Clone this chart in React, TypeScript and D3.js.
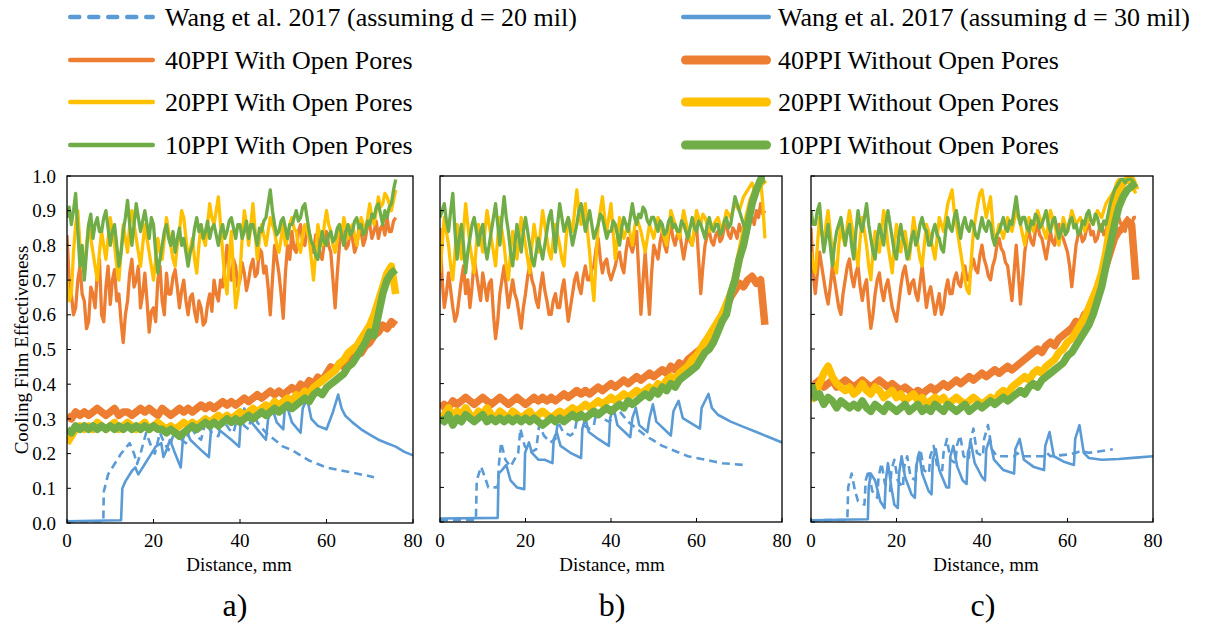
import React from 'react';
import * as d3 from 'd3';

const BLUE = '#5B9BD5';
const ORANGE = '#ED7D31';
const YELLOW = '#FFC000';
const GREEN = '#70AD47';
const FONT = '"Liberation Serif", "Times New Roman", Times, serif';

const STEP_OPEN = 0.5; // mm between samples, "With Open Pores" profiles
const STEP_CLOSED = 1; // mm between samples, "Without Open Pores" profiles
const X_TICKS = [0, 20, 40, 60, 80];
const Y_TICKS = [0, 0.1, 0.2, 0.3, 0.4, 0.5, 0.6, 0.7, 0.8, 0.9, 1.0];

// ---------- Panel a ----------
const A_40_OPEN = [
  0.83, 0.70, 0.66, 0.60, 0.62, 0.70, 0.74, 0.66, 0.64, 0.56,
  0.58, 0.68, 0.66, 0.62, 0.72, 0.76, 0.60, 0.58, 0.68, 0.74,
  0.63, 0.70, 0.73, 0.64, 0.66, 0.58, 0.52, 0.60, 0.64, 0.72,
  0.76, 0.68, 0.70, 0.74, 0.62, 0.66, 0.72, 0.64, 0.55, 0.61,
  0.62, 0.58, 0.70, 0.74, 0.64, 0.60, 0.72, 0.66, 0.66, 0.71,
  0.73, 0.68, 0.62, 0.67, 0.70, 0.64, 0.60, 0.65, 0.66, 0.61,
  0.58, 0.64, 0.62, 0.57, 0.58, 0.63, 0.66, 0.61, 0.70, 0.66,
  0.64, 0.70, 0.68, 0.74, 0.80, 0.73, 0.70, 0.76, 0.74, 0.68,
  0.70, 0.75, 0.72, 0.67, 0.70, 0.74, 0.76, 0.71, 0.72, 0.79,
  0.78, 0.72, 0.74, 0.68, 0.60, 0.70, 0.80, 0.76, 0.72, 0.66,
  0.59, 0.72, 0.80, 0.76, 0.84, 0.79, 0.78, 0.84, 0.86, 0.81,
  0.80, 0.85, 0.84, 0.79, 0.78, 0.83, 0.82, 0.77, 0.76, 0.81,
  0.84, 0.80, 0.78, 0.70, 0.62, 0.72, 0.80, 0.85, 0.84, 0.79,
  0.80, 0.84, 0.82, 0.78, 0.80, 0.85, 0.84, 0.80, 0.82, 0.86,
  0.86, 0.82, 0.84, 0.87, 0.82, 0.85, 0.86, 0.83, 0.88, 0.84,
  0.84, 0.87, 0.88,
];
const A_20_OPEN = [
  0.70, 0.64, 0.66, 0.78, 0.86, 0.90, 0.80, 0.74, 0.72, 0.80,
  0.86, 0.82, 0.78, 0.74, 0.70, 0.78, 0.84, 0.80, 0.76, 0.82,
  0.88, 0.84, 0.80, 0.74, 0.70, 0.78, 0.86, 0.82, 0.78, 0.86,
  0.90, 0.86, 0.82, 0.78, 0.74, 0.80, 0.86, 0.82, 0.78, 0.74,
  0.70, 0.76, 0.82, 0.78, 0.76, 0.82, 0.88, 0.84, 0.80, 0.76,
  0.74, 0.80, 0.84, 0.90, 0.88, 0.82, 0.76, 0.79, 0.82, 0.76,
  0.72, 0.80, 0.86, 0.82, 0.80, 0.86, 0.92, 0.88, 0.86, 0.90,
  0.94, 0.86, 0.78, 0.70, 0.66, 0.76, 0.84, 0.72, 0.62, 0.66,
  0.72, 0.82, 0.90, 0.86, 0.80, 0.86, 0.92, 0.84, 0.76, 0.82,
  0.86, 0.83, 0.80, 0.84, 0.88, 0.86, 0.84, 0.80, 0.78, 0.82,
  0.86, 0.80, 0.82, 0.86, 0.88, 0.85, 0.84, 0.80, 0.78, 0.83,
  0.86, 0.84, 0.82, 0.76, 0.70, 0.78, 0.86, 0.83, 0.80, 0.86,
  0.90, 0.86, 0.84, 0.80, 0.78, 0.82, 0.86, 0.83, 0.88, 0.85,
  0.82, 0.85, 0.86, 0.83, 0.80, 0.84, 0.88, 0.86, 0.84, 0.88,
  0.92, 0.88, 0.86, 0.90, 0.94, 0.91, 0.92, 0.95, 0.94, 0.92,
  0.90, 0.93, 0.96,
];
const A_10_OPEN = [
  0.88, 0.91, 0.86, 0.90, 0.95, 0.84, 0.74, 0.80, 0.70, 0.78,
  0.86, 0.89, 0.82, 0.86, 0.88, 0.84, 0.84, 0.88, 0.90, 0.85,
  0.80, 0.84, 0.86, 0.80, 0.74, 0.78, 0.84, 0.88, 0.93, 0.86,
  0.80, 0.86, 0.92, 0.88, 0.84, 0.87, 0.90, 0.86, 0.82, 0.88,
  0.86, 0.78, 0.72, 0.76, 0.80, 0.84, 0.86, 0.82, 0.80, 0.84,
  0.78, 0.82, 0.85, 0.80, 0.82, 0.78, 0.74, 0.78, 0.80, 0.85,
  0.88, 0.84, 0.86, 0.82, 0.84, 0.87, 0.82, 0.85, 0.86, 0.83,
  0.80, 0.84, 0.86, 0.82, 0.84, 0.87, 0.88, 0.85, 0.82, 0.86,
  0.86, 0.82, 0.84, 0.87, 0.82, 0.86, 0.86, 0.83, 0.80, 0.85,
  0.84, 0.87, 0.88, 0.92, 0.96, 0.90, 0.86, 0.83, 0.84, 0.87,
  0.88, 0.85, 0.82, 0.86, 0.86, 0.88, 0.90, 0.87, 0.88, 0.91,
  0.92, 0.88, 0.84, 0.81, 0.80, 0.77, 0.76, 0.80, 0.84, 0.81,
  0.80, 0.83, 0.84, 0.81, 0.82, 0.85, 0.86, 0.83, 0.80, 0.84,
  0.86, 0.83, 0.84, 0.87, 0.88, 0.85, 0.86, 0.83, 0.84, 0.87,
  0.86, 0.89, 0.88, 0.91, 0.92, 0.89, 0.86, 0.90, 0.88, 0.91,
  0.92, 0.96, 0.99,
];
const A_40_CLOSED = [
  0.31, 0.30, 0.32, 0.31, 0.32, 0.31, 0.32, 0.33, 0.32, 0.31,
  0.32, 0.33, 0.31, 0.32, 0.32, 0.31, 0.32, 0.33, 0.32, 0.33,
  0.32, 0.31, 0.33, 0.32, 0.31, 0.32, 0.33, 0.32, 0.33, 0.32,
  0.33, 0.34, 0.33, 0.34, 0.33, 0.34, 0.35, 0.34, 0.35, 0.34,
  0.35, 0.36, 0.35, 0.36, 0.37, 0.36, 0.37, 0.38, 0.37, 0.38,
  0.37, 0.38, 0.39, 0.38, 0.40, 0.39, 0.41, 0.40, 0.42, 0.41,
  0.43, 0.45, 0.44, 0.46, 0.45, 0.47, 0.48, 0.50, 0.49, 0.51,
  0.52, 0.54, 0.55, 0.57, 0.56, 0.58, 0.57,
];
const A_20_CLOSED = [
  0.23, 0.25, 0.27, 0.28, 0.27, 0.28, 0.27, 0.29, 0.28, 0.27,
  0.28, 0.29, 0.27, 0.28, 0.29, 0.28, 0.27, 0.28, 0.29, 0.27,
  0.28, 0.29, 0.28, 0.27, 0.28, 0.27, 0.28, 0.29, 0.28, 0.29,
  0.28, 0.29, 0.30, 0.29, 0.30, 0.31, 0.30, 0.31, 0.30, 0.31,
  0.32, 0.31, 0.32, 0.33, 0.32, 0.33, 0.34, 0.33, 0.35, 0.34,
  0.35, 0.36, 0.35, 0.37, 0.36, 0.38, 0.37, 0.39, 0.40, 0.41,
  0.42, 0.43, 0.44, 0.46, 0.47, 0.49, 0.50, 0.51, 0.53, 0.55,
  0.57, 0.60, 0.64, 0.68, 0.72, 0.74, 0.66,
];
const A_10_CLOSED = [
  0.27, 0.26, 0.28, 0.27, 0.28, 0.27, 0.28, 0.27, 0.28, 0.27,
  0.28, 0.27, 0.28, 0.27, 0.28, 0.27, 0.28, 0.27, 0.28, 0.27,
  0.28, 0.27, 0.27, 0.26, 0.27, 0.26, 0.25, 0.26, 0.27, 0.28,
  0.27, 0.28, 0.29, 0.28, 0.29, 0.28, 0.29, 0.30, 0.29, 0.30,
  0.29, 0.30, 0.31, 0.30, 0.31, 0.32, 0.31, 0.32, 0.33, 0.32,
  0.33, 0.34, 0.33, 0.34, 0.35, 0.36, 0.35, 0.37, 0.38, 0.37,
  0.39, 0.40, 0.41, 0.42, 0.43, 0.45, 0.46, 0.48, 0.50, 0.52,
  0.55, 0.54, 0.60, 0.66, 0.70, 0.72, 0.73,
];
const A_WANG20 = [
  [0, 0.005], [8.4, 0.005], [8.5, 0.09], [9.5, 0.14], [11, 0.17], [12.5, 0.2], [14.5, 0.23],
  [15.5, 0.2], [16.2, 0.17], [17, 0.2], [18.3, 0.26], [19.5, 0.22], [20.3, 0.2], [21.5, 0.26],
  [22.5, 0.23], [23.5, 0.21], [25, 0.27], [26.5, 0.24], [27.5, 0.23], [28.5, 0.28], [30, 0.25],
  [31, 0.24], [32, 0.29], [33.5, 0.26], [35, 0.25], [36, 0.3], [37.5, 0.27], [38.5, 0.26],
  [39.5, 0.31], [41, 0.28], [42, 0.27], [43, 0.33], [44, 0.29], [46, 0.26], [48, 0.24],
  [50, 0.22], [52, 0.21], [54, 0.195], [56, 0.18], [58, 0.17], [60, 0.16], [62, 0.155],
  [64, 0.15], [66, 0.145], [68, 0.14], [70, 0.135], [71, 0.132],
];
const A_WANG30 = [
  [0, 0.005], [12.5, 0.008], [12.8, 0.1], [13.5, 0.12], [15, 0.15], [15.8, 0.16], [16.5, 0.14],
  [18, 0.17], [19.5, 0.2], [20.5, 0.22], [21.8, 0.23], [22.3, 0.19], [23, 0.21], [23.8, 0.24],
  [25, 0.2], [26.3, 0.16], [26.8, 0.24], [27.5, 0.27], [28.5, 0.24], [31, 0.21], [32.8, 0.19],
  [33.3, 0.27], [34, 0.3], [35, 0.27], [38, 0.24], [39.8, 0.22], [40.2, 0.3], [41, 0.33],
  [42, 0.3], [44, 0.27], [46, 0.24], [46.5, 0.3], [47.5, 0.33], [48.5, 0.29], [50, 0.27],
  [50.3, 0.32], [50.8, 0.34], [52, 0.29], [54, 0.26], [54.5, 0.33], [55.5, 0.36], [56.5, 0.3],
  [58, 0.28], [60, 0.27], [61.5, 0.32], [62.7, 0.37], [63.5, 0.33], [64.3, 0.31], [66, 0.29],
  [68, 0.27], [70, 0.255], [72, 0.24], [74, 0.23], [76, 0.22], [78, 0.205], [80, 0.195],
];

// ---------- Panel b ----------
const B_40_OPEN = [
  0.85, 0.70, 0.62, 0.66, 0.72, 0.67, 0.62, 0.58, 0.60, 0.65,
  0.70, 0.74, 0.66, 0.70, 0.62, 0.68, 0.76, 0.72, 0.68, 0.64,
  0.72, 0.68, 0.64, 0.69, 0.70, 0.60, 0.53, 0.58, 0.66, 0.70,
  0.74, 0.68, 0.62, 0.66, 0.70, 0.66, 0.64, 0.60, 0.56, 0.62,
  0.66, 0.71, 0.74, 0.70, 0.68, 0.64, 0.62, 0.68, 0.72, 0.67,
  0.64, 0.60, 0.60, 0.64, 0.66, 0.62, 0.62, 0.67, 0.70, 0.64,
  0.58, 0.62, 0.66, 0.70, 0.72, 0.68, 0.66, 0.71, 0.74, 0.70,
  0.70, 0.73, 0.74, 0.79, 0.82, 0.76, 0.72, 0.75, 0.76, 0.72,
  0.70, 0.72, 0.74, 0.77, 0.78, 0.74, 0.72, 0.78, 0.82, 0.80,
  0.78, 0.81, 0.84, 0.72, 0.60, 0.70, 0.78, 0.68, 0.60, 0.72,
  0.80, 0.78, 0.76, 0.81, 0.84, 0.80, 0.78, 0.83, 0.86, 0.82,
  0.80, 0.83, 0.84, 0.80, 0.76, 0.80, 0.84, 0.81, 0.80, 0.84,
  0.86, 0.76, 0.66, 0.74, 0.80, 0.83, 0.84, 0.81, 0.80, 0.83,
  0.84, 0.81, 0.82, 0.85, 0.86, 0.83, 0.82, 0.85, 0.84, 0.82,
  0.86, 0.84, 0.84, 0.87, 0.86, 0.88, 0.88, 0.86, 0.90, 0.88,
  0.92, 0.89, 0.90,
];
const B_20_OPEN = [
  0.72, 0.80, 0.88, 0.84, 0.80, 0.74, 0.70, 0.78, 0.86, 0.82,
  0.76, 0.84, 0.92, 0.86, 0.80, 0.76, 0.72, 0.80, 0.86, 0.82,
  0.78, 0.84, 0.90, 0.86, 0.82, 0.78, 0.74, 0.82, 0.88, 0.84,
  0.80, 0.74, 0.70, 0.78, 0.84, 0.80, 0.76, 0.82, 0.88, 0.84,
  0.80, 0.76, 0.72, 0.80, 0.86, 0.82, 0.78, 0.84, 0.90, 0.86,
  0.82, 0.78, 0.76, 0.82, 0.86, 0.83, 0.80, 0.76, 0.74, 0.82,
  0.88, 0.86, 0.84, 0.90, 0.96, 0.90, 0.86, 0.89, 0.92, 0.84,
  0.78, 0.70, 0.64, 0.76, 0.86, 0.90, 0.94, 0.88, 0.84, 0.88,
  0.92, 0.84, 0.76, 0.82, 0.88, 0.85, 0.82, 0.84, 0.86, 0.83,
  0.80, 0.85, 0.88, 0.86, 0.84, 0.81, 0.78, 0.82, 0.86, 0.84,
  0.82, 0.85, 0.88, 0.86, 0.84, 0.82, 0.80, 0.85, 0.90, 0.88,
  0.86, 0.84, 0.82, 0.86, 0.90, 0.87, 0.84, 0.82, 0.80, 0.85,
  0.90, 0.88, 0.86, 0.89, 0.88, 0.86, 0.84, 0.85, 0.86, 0.87,
  0.88, 0.86, 0.84, 0.87, 0.90, 0.89, 0.88, 0.90, 0.92, 0.91,
  0.90, 0.92, 0.94, 0.95, 0.96, 0.97, 0.98, 0.96, 0.97, 0.98,
  0.99, 0.92, 0.82,
];
const B_10_OPEN = [
  0.88, 0.90, 0.92, 0.87, 0.84, 0.90, 0.95, 0.84, 0.76, 0.82,
  0.86, 0.80, 0.72, 0.78, 0.82, 0.86, 0.88, 0.84, 0.80, 0.84,
  0.86, 0.80, 0.76, 0.80, 0.84, 0.88, 0.92, 0.86, 0.80, 0.88,
  0.94, 0.88, 0.84, 0.78, 0.74, 0.80, 0.86, 0.82, 0.78, 0.84,
  0.88, 0.84, 0.80, 0.76, 0.74, 0.78, 0.82, 0.79, 0.76, 0.80,
  0.84, 0.88, 0.90, 0.84, 0.78, 0.86, 0.92, 0.88, 0.84, 0.86,
  0.88, 0.84, 0.80, 0.83, 0.86, 0.90, 0.92, 0.88, 0.84, 0.87,
  0.90, 0.86, 0.82, 0.84, 0.86, 0.89, 0.88, 0.85, 0.82, 0.84,
  0.84, 0.87, 0.86, 0.83, 0.80, 0.85, 0.88, 0.86, 0.84, 0.88,
  0.92, 0.88, 0.86, 0.89, 0.88, 0.91, 0.90, 0.87, 0.86, 0.88,
  0.88, 0.86, 0.84, 0.87, 0.86, 0.83, 0.84, 0.87, 0.88, 0.85,
  0.86, 0.84, 0.84, 0.87, 0.86, 0.84, 0.82, 0.85, 0.88, 0.85,
  0.84, 0.87, 0.86, 0.84, 0.82, 0.86, 0.88, 0.85, 0.84, 0.86,
  0.86, 0.83, 0.84, 0.87, 0.88, 0.85, 0.86, 0.90, 0.94, 0.92,
  0.90, 0.88, 0.86, 0.84, 0.84, 0.87, 0.90, 0.93, 0.96, 0.97,
  0.98, 0.99, 0.99,
];
const B_40_CLOSED = [
  0.33, 0.34, 0.33, 0.35, 0.34, 0.35, 0.36, 0.35, 0.34, 0.35,
  0.36, 0.35, 0.34, 0.35, 0.36, 0.35, 0.34, 0.35, 0.36, 0.35,
  0.34, 0.35, 0.36, 0.35, 0.36, 0.35, 0.36, 0.35, 0.36, 0.37,
  0.36, 0.37, 0.38, 0.37, 0.38, 0.37, 0.38, 0.39, 0.38, 0.39,
  0.40, 0.39, 0.40, 0.41, 0.40, 0.41, 0.42, 0.41, 0.42, 0.43,
  0.42, 0.43, 0.44, 0.43, 0.45, 0.44, 0.46, 0.45, 0.47, 0.48,
  0.49, 0.50, 0.52, 0.53, 0.55, 0.57, 0.60, 0.62, 0.65, 0.67,
  0.69, 0.68, 0.70, 0.71, 0.69, 0.70, 0.57,
];
const B_20_CLOSED = [
  0.29, 0.31, 0.33, 0.30, 0.32, 0.31, 0.33, 0.31, 0.30, 0.32,
  0.31, 0.33, 0.31, 0.30, 0.32, 0.31, 0.30, 0.32, 0.31, 0.30,
  0.31, 0.32, 0.30, 0.31, 0.32, 0.31, 0.30, 0.31, 0.32, 0.31,
  0.32, 0.33, 0.32, 0.33, 0.34, 0.33, 0.34, 0.35, 0.34, 0.35,
  0.36, 0.35, 0.36, 0.37, 0.36, 0.37, 0.38, 0.37, 0.38, 0.39,
  0.38, 0.40, 0.39, 0.41, 0.42, 0.41, 0.43, 0.44, 0.45, 0.47,
  0.48, 0.50, 0.52, 0.54, 0.56, 0.58, 0.60, 0.63, 0.66, 0.70,
  0.76, 0.82, 0.88, 0.93, 0.96, 0.98, 0.99,
];
const B_10_CLOSED = [
  0.30, 0.29, 0.31, 0.28, 0.30, 0.29, 0.31, 0.30, 0.29, 0.30,
  0.31, 0.29, 0.30, 0.29, 0.30, 0.29, 0.30, 0.29, 0.30, 0.29,
  0.30, 0.29, 0.30, 0.29, 0.28, 0.29, 0.30, 0.29, 0.30, 0.29,
  0.30, 0.31, 0.30, 0.31, 0.30, 0.31, 0.32, 0.31, 0.32, 0.33,
  0.32, 0.33, 0.34, 0.33, 0.35, 0.34, 0.35, 0.36, 0.37, 0.36,
  0.38, 0.37, 0.39, 0.38, 0.40, 0.39, 0.41, 0.42, 0.43, 0.44,
  0.45, 0.47, 0.49, 0.50, 0.52, 0.55, 0.58, 0.60, 0.66, 0.70,
  0.76, 0.80, 0.86, 0.92, 0.96, 0.99, 0.99,
];
const B_WANG20 = [
  [0, 0.005], [8.4, 0.006], [8.6, 0.12], [9.6, 0.16], [10.5, 0.13], [11.3, 0.1], [13.5, 0.1],
  [13.8, 0.17], [14.3, 0.23], [15.3, 0.18], [16.5, 0.16], [18.3, 0.2], [18.8, 0.27], [19.8, 0.22],
  [21, 0.2], [22.5, 0.21], [23.2, 0.28], [24.3, 0.25], [25.8, 0.23], [27, 0.24], [27.6, 0.29],
  [28.8, 0.26], [30.5, 0.25], [31.5, 0.26], [32.2, 0.31], [33.5, 0.28], [35, 0.27], [36, 0.28],
  [36.6, 0.32], [37.8, 0.3], [39.5, 0.29], [40.3, 0.3], [41, 0.35], [42, 0.32], [44, 0.29],
  [46, 0.27], [48, 0.25], [50, 0.235], [52, 0.22], [54, 0.21], [56, 0.2], [58, 0.19],
  [60, 0.185], [62, 0.18], [64, 0.175], [66, 0.17], [68, 0.168], [70.8, 0.165],
];
const B_WANG30 = [
  [0, 0.01], [13.5, 0.012], [13.7, 0.14], [14.5, 0.15], [15.5, 0.165], [16.5, 0.12], [18, 0.1],
  [19.7, 0.095], [19.9, 0.2], [20.8, 0.23], [21.5, 0.2], [23, 0.18], [24.5, 0.18], [26.3, 0.17],
  [26.6, 0.24], [27.3, 0.26], [28.2, 0.22], [30.5, 0.2], [33, 0.185], [33.3, 0.27], [34, 0.3],
  [34.8, 0.26], [37, 0.24], [39.5, 0.22], [39.8, 0.3], [40.6, 0.33], [41.5, 0.28], [44.5, 0.245],
  [45, 0.3], [45.8, 0.33], [46.6, 0.28], [48.5, 0.26], [49, 0.3], [49.8, 0.34], [50.6, 0.29],
  [54, 0.25], [54.6, 0.32], [55.8, 0.35], [56.8, 0.3], [60.8, 0.27], [61.2, 0.33], [62.8, 0.37],
  [63.6, 0.33], [65, 0.31], [68, 0.29], [71, 0.275], [74, 0.26], [77, 0.245], [80, 0.23],
];

// ---------- Panel c ----------
const C_40_OPEN = [
  0.85, 0.72, 0.66, 0.72, 0.78, 0.74, 0.70, 0.66, 0.63, 0.68,
  0.74, 0.70, 0.66, 0.62, 0.60, 0.66, 0.70, 0.74, 0.76, 0.71,
  0.68, 0.72, 0.74, 0.68, 0.64, 0.68, 0.70, 0.62, 0.56, 0.60,
  0.66, 0.70, 0.72, 0.67, 0.64, 0.68, 0.70, 0.66, 0.62, 0.60,
  0.58, 0.63, 0.68, 0.72, 0.74, 0.70, 0.66, 0.69, 0.70, 0.66,
  0.64, 0.69, 0.74, 0.68, 0.62, 0.66, 0.68, 0.64, 0.60, 0.63,
  0.66, 0.60, 0.62, 0.67, 0.70, 0.66, 0.66, 0.70, 0.72, 0.69,
  0.68, 0.72, 0.74, 0.70, 0.70, 0.74, 0.76, 0.73, 0.72, 0.77,
  0.80, 0.76, 0.74, 0.71, 0.70, 0.74, 0.76, 0.80, 0.82, 0.79,
  0.78, 0.75, 0.74, 0.69, 0.64, 0.72, 0.80, 0.72, 0.63, 0.70,
  0.78, 0.82, 0.84, 0.81, 0.80, 0.84, 0.86, 0.83, 0.82, 0.79,
  0.76, 0.80, 0.84, 0.81, 0.80, 0.84, 0.86, 0.83, 0.82, 0.80,
  0.78, 0.74, 0.68, 0.74, 0.80, 0.83, 0.84, 0.81, 0.82, 0.85,
  0.86, 0.83, 0.84, 0.81, 0.82, 0.85, 0.86, 0.83, 0.84, 0.87,
  0.88, 0.85, 0.86, 0.89, 0.88, 0.86, 0.86, 0.84, 0.88, 0.85,
  0.86, 0.88, 0.88,
];
const C_20_OPEN = [
  0.78, 0.74, 0.72, 0.80, 0.88, 0.84, 0.80, 0.86, 0.90, 0.84,
  0.78, 0.74, 0.72, 0.80, 0.86, 0.82, 0.80, 0.86, 0.90, 0.86,
  0.82, 0.78, 0.74, 0.82, 0.88, 0.84, 0.80, 0.74, 0.70, 0.78,
  0.84, 0.80, 0.78, 0.84, 0.90, 0.86, 0.80, 0.76, 0.72, 0.80,
  0.86, 0.82, 0.78, 0.82, 0.84, 0.80, 0.76, 0.82, 0.88, 0.84,
  0.80, 0.76, 0.74, 0.80, 0.86, 0.84, 0.82, 0.79, 0.76, 0.82,
  0.88, 0.86, 0.84, 0.88, 0.92, 0.94, 0.96, 0.90, 0.86, 0.82,
  0.78, 0.74, 0.70, 0.67, 0.66, 0.76, 0.84, 0.88, 0.92, 0.95,
  0.96, 0.92, 0.88, 0.91, 0.94, 0.86, 0.80, 0.83, 0.86, 0.84,
  0.82, 0.85, 0.88, 0.86, 0.84, 0.87, 0.90, 0.88, 0.86, 0.83,
  0.80, 0.84, 0.88, 0.86, 0.84, 0.87, 0.90, 0.88, 0.86, 0.84,
  0.82, 0.86, 0.90, 0.88, 0.86, 0.83, 0.80, 0.84, 0.88, 0.86,
  0.84, 0.87, 0.90, 0.88, 0.86, 0.87, 0.88, 0.86, 0.84, 0.86,
  0.88, 0.87, 0.86, 0.88, 0.90, 0.89, 0.88, 0.90, 0.92, 0.93,
  0.94, 0.95, 0.96, 0.98, 0.99, 0.98, 0.98, 0.99, 0.99, 0.98,
  0.97, 0.96, 0.95,
];
const C_10_OPEN = [
  0.90, 0.86, 0.86, 0.90, 0.92, 0.84, 0.78, 0.82, 0.86, 0.80,
  0.74, 0.80, 0.84, 0.86, 0.88, 0.84, 0.80, 0.84, 0.86, 0.80,
  0.76, 0.84, 0.90, 0.86, 0.84, 0.88, 0.92, 0.86, 0.82, 0.78,
  0.76, 0.82, 0.86, 0.83, 0.80, 0.86, 0.90, 0.86, 0.82, 0.78,
  0.76, 0.82, 0.86, 0.82, 0.80, 0.76, 0.78, 0.82, 0.84, 0.80,
  0.82, 0.86, 0.88, 0.85, 0.84, 0.80, 0.80, 0.84, 0.86, 0.83,
  0.82, 0.79, 0.78, 0.84, 0.88, 0.85, 0.84, 0.88, 0.90, 0.86,
  0.82, 0.86, 0.88, 0.85, 0.84, 0.87, 0.86, 0.83, 0.82, 0.85,
  0.88, 0.85, 0.84, 0.87, 0.86, 0.82, 0.80, 0.83, 0.84, 0.86,
  0.88, 0.85, 0.84, 0.87, 0.86, 0.90, 0.94, 0.89, 0.86, 0.88,
  0.88, 0.85, 0.84, 0.87, 0.86, 0.89, 0.88, 0.85, 0.86, 0.88,
  0.90, 0.86, 0.84, 0.87, 0.88, 0.85, 0.82, 0.84, 0.86, 0.83,
  0.84, 0.87, 0.88, 0.85, 0.86, 0.83, 0.84, 0.87, 0.86, 0.89,
  0.90, 0.87, 0.86, 0.89, 0.88, 0.85, 0.84, 0.87, 0.86, 0.89,
  0.92, 0.94, 0.96, 0.97, 0.98, 0.99, 0.99, 0.98, 0.99, 0.99,
  0.99, 0.98, 0.98,
];
const C_40_CLOSED = [
  0.38, 0.40, 0.41, 0.39, 0.40, 0.41, 0.39, 0.40, 0.41, 0.40,
  0.39, 0.40, 0.41, 0.40, 0.39, 0.40, 0.41, 0.40, 0.39, 0.40,
  0.39, 0.38, 0.39, 0.38, 0.37, 0.38, 0.37, 0.38, 0.39, 0.38,
  0.39, 0.40, 0.39, 0.40, 0.41, 0.40, 0.41, 0.42, 0.41, 0.42,
  0.43, 0.42, 0.43, 0.44, 0.43, 0.44, 0.45, 0.44, 0.45, 0.46,
  0.47, 0.48, 0.49, 0.50, 0.49, 0.51, 0.52, 0.51, 0.53, 0.54,
  0.55, 0.56, 0.58, 0.57, 0.60, 0.59, 0.63, 0.67, 0.70, 0.74,
  0.78, 0.82, 0.84, 0.85, 0.87, 0.86, 0.70,
];
const C_20_CLOSED = [
  0.35, 0.37, 0.40, 0.43, 0.45, 0.42, 0.40, 0.39, 0.38, 0.39,
  0.37, 0.38, 0.40, 0.38, 0.37, 0.39, 0.38, 0.36, 0.37, 0.38,
  0.36, 0.37, 0.35, 0.36, 0.37, 0.35, 0.36, 0.34, 0.35, 0.36,
  0.35, 0.36, 0.34, 0.35, 0.36, 0.35, 0.34, 0.35, 0.36, 0.35,
  0.34, 0.35, 0.36, 0.35, 0.37, 0.38, 0.37, 0.39, 0.40, 0.41,
  0.42, 0.41, 0.43, 0.44, 0.43, 0.45, 0.46, 0.47, 0.49, 0.50,
  0.52, 0.53, 0.55, 0.57, 0.59, 0.62, 0.65, 0.68, 0.72, 0.78,
  0.86, 0.92, 0.96, 0.98, 0.99, 0.99, 0.96,
];
const C_10_CLOSED = [
  0.40, 0.36, 0.37, 0.34, 0.36, 0.35, 0.33, 0.35, 0.34, 0.33,
  0.34, 0.33, 0.35, 0.33, 0.32, 0.34, 0.33, 0.32, 0.34, 0.33,
  0.32, 0.33, 0.34, 0.32, 0.33, 0.34, 0.32, 0.33, 0.32, 0.34,
  0.33, 0.32, 0.34, 0.33, 0.32, 0.33, 0.34, 0.32, 0.33, 0.34,
  0.33, 0.34, 0.35, 0.34, 0.35, 0.36, 0.35, 0.36, 0.37, 0.38,
  0.37, 0.39, 0.40, 0.39, 0.41, 0.42, 0.43, 0.44, 0.45, 0.46,
  0.48, 0.49, 0.51, 0.53, 0.55, 0.57, 0.60, 0.64, 0.68, 0.74,
  0.80, 0.86, 0.91, 0.94, 0.96, 0.97, 0.98,
];
const C_WANG20 = [
  [0, 0.005], [8.5, 0.006], [8.7, 0.1], [9.5, 0.14], [10.3, 0.09], [11, 0.06], [12.5, 0.05],
  [12.8, 0.12], [13.5, 0.15], [14.3, 0.09], [15.5, 0.07], [15.8, 0.13], [16.5, 0.17], [17.3, 0.11],
  [18.5, 0.09], [18.8, 0.15], [19.5, 0.18], [20.3, 0.12], [21.5, 0.1], [21.8, 0.16], [22.5, 0.19],
  [23.3, 0.13], [24.5, 0.12], [24.8, 0.18], [25.6, 0.21], [26.4, 0.15], [27.6, 0.14], [27.9, 0.19],
  [28.7, 0.22], [29.5, 0.16], [30.7, 0.15], [31, 0.2], [31.8, 0.24], [32.6, 0.18], [33.8, 0.17],
  [34.1, 0.22], [34.9, 0.25], [35.7, 0.19], [36.9, 0.18], [37.2, 0.23], [38, 0.27], [38.8, 0.2],
  [40.2, 0.19], [40.5, 0.24], [41.4, 0.28], [42.3, 0.21], [43.5, 0.19], [46, 0.19], [47.5, 0.19],
  [48.2, 0.2], [49, 0.19], [52, 0.19], [54.5, 0.19], [55.2, 0.2], [56, 0.19], [60, 0.195],
  [62, 0.2], [63, 0.205], [65, 0.2], [68, 0.205], [70.6, 0.21],
];
const C_WANG30 = [
  [0, 0.005], [13.3, 0.008], [13.5, 0.1], [14, 0.14], [15, 0.12], [16.2, 0.06], [17.2, 0.04],
  [17.5, 0.12], [18, 0.17], [18.8, 0.1], [19.5, 0.05], [20.3, 0.04], [20.6, 0.14], [21.2, 0.19],
  [22, 0.13], [23.5, 0.08], [24.3, 0.07], [24.6, 0.16], [25.3, 0.2], [26, 0.14], [27.5, 0.09],
  [28.2, 0.08], [28.5, 0.18], [29.2, 0.21], [30, 0.15], [31.7, 0.1], [32.3, 0.1], [32.6, 0.19],
  [33.3, 0.22], [34.2, 0.16], [35.5, 0.12], [36.4, 0.11], [36.7, 0.2], [37.4, 0.23], [38.3, 0.17],
  [40, 0.13], [40.7, 0.12], [41, 0.21], [41.8, 0.24], [42.8, 0.18], [45, 0.15], [47.5, 0.14],
  [47.8, 0.21], [48.8, 0.24], [49.8, 0.18], [52, 0.16], [54.5, 0.15], [54.8, 0.22], [55.8, 0.26],
  [56.8, 0.19], [59, 0.175], [61.5, 0.165], [61.8, 0.24], [62.8, 0.28], [63.8, 0.2], [65, 0.185],
  [68, 0.18], [72, 0.182], [76, 0.186], [80, 0.19],
];

// ---------- series definitions (drawing order = Excel series order) ----------
const SERIES = [
  { key: 'wang20', name: 'Wang et al. 2017 (assuming d = 20 mil)', color: BLUE, width: 2.6, legendWidth: 4.5, dash: '8,5', legendDash: '9,10', pairs: true },
  { key: 'wang30', name: 'Wang et al. 2017 (assuming d = 30 mil)', color: BLUE, width: 2.6, legendWidth: 4.5, pairs: true },
  { key: 'open40', name: '40PPI With Open Pores', color: ORANGE, width: 3.3, legendWidth: 4.5, step: STEP_OPEN },
  { key: 'closed40', name: '40PPI Without Open Pores', color: ORANGE, width: 7.5, legendWidth: 9, step: STEP_CLOSED },
  { key: 'open20', name: '20PPI With Open Pores', color: YELLOW, width: 3.3, legendWidth: 4.5, step: STEP_OPEN },
  { key: 'closed20', name: '20PPI Without Open Pores', color: YELLOW, width: 7.5, legendWidth: 9, step: STEP_CLOSED },
  { key: 'open10', name: '10PPI With Open Pores', color: GREEN, width: 3.3, legendWidth: 4.5, step: STEP_OPEN },
  { key: 'closed10', name: '10PPI Without Open Pores', color: GREEN, width: 7.5, legendWidth: 9, step: STEP_CLOSED },
];

const PANELS = [
  {
    id: 'a', label: 'a)', left: 67, right: 413, top: 176, bottom: 523, labelX: 235, titleX: 239, yLabels: true,
    data: { wang20: A_WANG20, wang30: A_WANG30, open40: A_40_OPEN, closed40: A_40_CLOSED, open20: A_20_OPEN, closed20: A_20_CLOSED, open10: A_10_OPEN, closed10: A_10_CLOSED },
  },
  {
    id: 'b', label: 'b)', left: 440, right: 782, top: 176, bottom: 522, labelX: 612, titleX: 612, yLabels: false,
    data: { wang20: B_WANG20, wang30: B_WANG30, open40: B_40_OPEN, closed40: B_40_CLOSED, open20: B_20_OPEN, closed20: B_20_CLOSED, open10: B_10_OPEN, closed10: B_10_CLOSED },
  },
  {
    id: 'c', label: 'c)', left: 811, right: 1153, top: 176, bottom: 522, labelX: 983, titleX: 986, yLabels: false,
    data: { wang20: C_WANG20, wang30: C_WANG30, open40: C_40_OPEN, closed40: C_40_CLOSED, open20: C_20_OPEN, closed20: C_20_CLOSED, open10: C_10_OPEN, closed10: C_10_CLOSED },
  },
];

const LEGEND = { leftLine: [68, 155], leftText: 165, rightLine: [681, 771], rightText: 778, rows: [17, 60, 102, 145], fontSize: 26 };

function Panel({ p }: { p: any }) {
  const x = d3.scaleLinear().domain([0, 80]).range([p.left, p.right]);
  const y = d3.scaleLinear().domain([0, 1]).range([p.bottom, p.top]);
  const line = d3.line<number[]>().x((d) => x(d[0])).y((d) => y(d[1]));
  const clipId = `clip-${p.id}`;
  return (
    <g>
      <defs>
        <clipPath id={clipId}>
          <rect x={p.left} y={p.top} width={p.right - p.left} height={p.bottom - p.top} />
        </clipPath>
      </defs>
      <g clipPath={`url(#${clipId})`}>
        {SERIES.map((s) => {
          const raw = p.data[s.key];
          const pts: number[][] = s.pairs ? raw : raw.map((v: number, i: number) => [i * (s.step as number), v]);
          return (
            <path key={s.key} d={line(pts) || ''} fill="none" stroke={s.color} strokeWidth={s.width}
              strokeDasharray={s.dash} strokeLinejoin="round" strokeLinecap="butt" />
          );
        })}
      </g>
      <rect x={p.left} y={p.top} width={p.right - p.left} height={p.bottom - p.top} fill="none" stroke="#000" strokeWidth={1.3} />
      {Y_TICKS.map((t) => (
        <g key={`yt${t}`}>
          <line x1={p.left} x2={p.left + 4} y1={y(t)} y2={y(t)} stroke="#000" strokeWidth={1} />
          {p.yLabels && (
            <text x={p.left - 11} y={y(t)} dy="0.35em" textAnchor="end" fontSize={19} fontFamily={FONT} fill="#000">
              {d3.format('.1f')(t)}
            </text>
          )}
        </g>
      ))}
      {X_TICKS.map((t) => (
        <g key={`xt${t}`}>
          <line x1={x(t)} x2={x(t)} y1={p.bottom} y2={p.bottom - 4} stroke="#000" strokeWidth={1} />
          <text x={x(t)} y={547} textAnchor="middle" fontSize={19} fontFamily={FONT} fill="#000">{t}</text>
        </g>
      ))}
      <text x={p.titleX} y={571} textAnchor="middle" fontSize={19} fontFamily={FONT} fill="#000">Distance, mm</text>
      <text x={p.labelX} y={616} textAnchor="middle" fontSize={32} fontFamily={FONT} fill="#000">{p.label}</text>
    </g>
  );
}

export default function App() {
  return (
    <svg width={1217} height={628} style={{ position: 'absolute', left: 0, top: 0, background: '#fff' }}>
      <rect x={0} y={0} width={1217} height={628} fill="#fff" />
      <defs>
        <clipPath id="legend-clip">
          <rect x={0} y={0} width={1217} height={156} />
        </clipPath>
      </defs>
      <g clipPath="url(#legend-clip)">
        {SERIES.map((s, i) => {
          const col = i % 2;
          const row = Math.floor(i / 2);
          const ly = LEGEND.rows[row];
          const [lx0, lx1] = col === 0 ? LEGEND.leftLine : LEGEND.rightLine;
          const tx = col === 0 ? LEGEND.leftText : LEGEND.rightText;
          return (
            <g key={s.key}>
              <line x1={lx0 + s.legendWidth / 2} x2={lx1 - s.legendWidth / 2} y1={ly} y2={ly} stroke={s.color}
                strokeWidth={s.legendWidth} strokeLinecap="round" strokeDasharray={s.legendDash} />
              <text x={tx} y={ly + 8.5} fontSize={LEGEND.fontSize} fontFamily={FONT} fill="#000">{s.name}</text>
            </g>
          );
        })}
      </g>
      <text transform="translate(21,350) rotate(-90)" textAnchor="middle" dy="0.35em" fontSize={19} fontFamily={FONT} fill="#000">
        Cooling Film Effectiveness
      </text>
      {PANELS.map((p) => <Panel key={p.id} p={p} />)}
    </svg>
  );
}
